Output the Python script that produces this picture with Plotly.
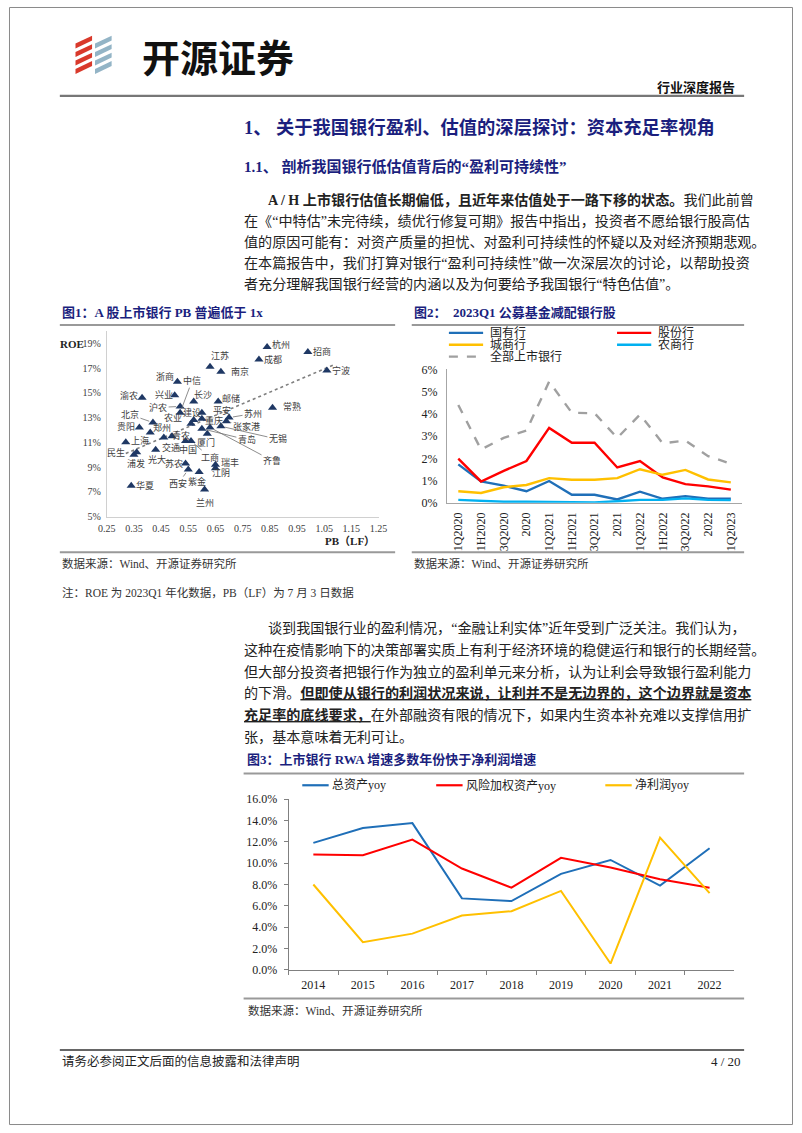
import plotly.graph_objects as go

W, H = 802, 1133
def X(px): return px / W
def Y(py): return 1 - py / H

SERIF = "'Liberation Serif', 'Noto Sans CJK SC', serif"
CJK = "'Liberation Serif', 'Noto Sans CJK SC', sans-serif"
NAVY = "#1B1F7E"
TXT = "#222222"

# ---------------- data ----------------
# Fig1: PB vs ROE (%)
banks = ['杭州','招商','成都','江苏','宁波','南京','浙商','兴业','渝农','长沙','邮储','常熟',
         '沪农','中信','建设','平安','重庆','农业','青农','苏州','张家港','无锡','齐鲁','青岛',
         '厦门','北京','贵阳','郑州','上海','交通','中国','工商','民生','浦发','光大','苏农',
         '西安','紫金','瑞丰','江阴','华夏','兰州']
pb = [0.84,0.99,0.81,0.63,1.06,0.67,0.51,0.50,0.38,0.57,0.66,0.86,
      0.52,0.52,0.57,0.60,0.60,0.56,0.49,0.70,0.69,0.67,0.63,0.60,
      0.62,0.42,0.37,0.41,0.32,0.46,0.54,0.56,0.36,0.35,0.43,0.54,
      0.55,0.59,0.65,0.65,0.34,0.61]
roe = [18.7,18.3,17.7,17.1,16.8,16.7,15.9,14.8,14.6,14.3,14.3,13.8,
       13.9,13.4,12.8,13.4,12.9,12.5,11.5,13.0,12.7,12.3,12.2,12.1,
       11.7,12.6,12.2,11.8,11.0,11.4,11.1,11.1,10.2,10.0,10.4,9.3,
       8.8,8.6,9.2,8.9,7.5,7.2]
trend_pb = [0.32, 1.09]
trend_roe = [10.1, 17.3]
pb_ticks = [0.25,0.35,0.45,0.55,0.65,0.75,0.85,0.95,1.05,1.15,1.25]
roe_ticks = [5,7,9,11,13,15,17,19]

# Fig2: fund allocation to bank stocks (%)
periods = ['1Q2020','1H2020','3Q2020','2020','1Q2021','1H2021','3Q2021','2021',
           '1Q2022','1H2022','3Q2022','2022','1Q2023']
state_banks = [1.73,0.96,0.77,0.52,0.98,0.36,0.36,0.15,0.50,0.18,0.30,0.19,0.19]
joint_banks = [1.99,0.96,1.44,1.88,3.37,2.70,2.70,1.59,1.88,1.14,0.84,0.74,0.59]
city_banks  = [0.52,0.44,0.70,0.80,1.11,1.04,1.04,1.11,1.51,1.26,1.48,1.05,0.92]
rural_banks = [0.13,0.09,0.05,0.05,0.05,0.02,0.02,0.07,0.13,0.13,0.20,0.13,0.12]
all_banks   = [4.40,2.40,2.92,3.25,5.45,4.05,4.03,2.92,3.97,2.68,2.80,2.10,1.76]

# Fig3: growth (%)
years = ['2014','2015','2016','2017','2018','2019','2020','2021','2022']
assets_yoy = [11.9,13.3,13.75,6.7,6.45,9.0,10.3,7.9,11.4]
rwa_yoy    = [10.8,10.75,12.2,9.5,7.7,10.5,9.6,8.5,7.7]
profit_yoy = [8.0,2.6,3.4,5.1,5.5,7.4,0.6,12.4,7.2]

# label offsets (px) for fig1: (dx, dy, leader)
label_pos = {
 '杭州':(14,-3,0),'招商':(14,0,0),'成都':(14,0,0),'江苏':(10,-11,0),'宁波':(14,0,0),
 '南京':(19,0,0),'浙商':(-12,-5,0),'兴业':(-11,0,0),'渝农':(-13,-2,0),'长沙':(9,-7,0),
 '邮储':(13,-3,0),'常熟':(19,-1,0),'沪农':(-22,1,1),'中信':(12,-32,1),'建设':(-2,-8,0),
 '平安':(20,-2,0),'重庆':(12,2,0),'农业':(-18,-6,0),'青农':(9,-1,0),'苏州':(24,-4,1),
 '张家港':(20,5,1),'无锡':(57,13,1),'齐鲁':(62,33,1),'青岛':(45,11,1),'厦门':(-1,9,0),
 '北京':(-23,-8,1),'贵阳':(-13,-1,0),'郑州':(12,-5,0),'上海':(14,-2,0),'交通':(7,10,0),
 '中国':(2,8,0),'工商':(19,16,1),'民生':(-21,0,0),'浦发':(2,9,0),'光大':(1,10,0),
 '苏农':(-12,0,0),'西安':(-10,14,1),'紫金':(-2,9,0),'瑞丰':(15,-2,0),'江阴':(6,5,0),
 '华夏':(14,0,0),'兰州':(0,13,0)}

fig = go.Figure()

# ---------- Fig1 traces ----------
fig.add_trace(go.Scatter(x=trend_pb, y=trend_roe, mode='lines',
    line=dict(color='#7F7F7F', width=1.6, dash='dot'), xaxis='x', yaxis='y', showlegend=False))
fig.add_trace(go.Scatter(x=pb, y=roe, mode='markers',
    marker=dict(symbol='triangle-up', size=8, color='#1F3864'), xaxis='x', yaxis='y', showlegend=False))

# ---------- Fig2 traces ----------
f2 = [(state_banks,'#1F6FB8','solid'),(joint_banks,'#FF0000','solid'),(city_banks,'#FFC000','solid'),
      (rural_banks,'#00B0F0','solid'),(all_banks,'#A0A0A0','dash')]
for vals,c,d in f2:
    fig.add_trace(go.Scatter(x=periods, y=vals, mode='lines', line=dict(color=c, width=2.4, dash=d),
                             xaxis='x2', yaxis='y2', showlegend=False))

# ---------- Fig3 traces ----------
f3 = [(assets_yoy,'#1F6FB8'),(rwa_yoy,'#FF0000'),(profit_yoy,'#FFC000')]
for vals,c in f3:
    fig.add_trace(go.Scatter(x=years, y=vals, mode='lines', line=dict(color=c, width=2),
                             xaxis='x3', yaxis='y3', showlegend=False))

ann = []
shapes = []
def text(x, y, s, size=14, color=TXT, anchor='left', family=CJK, yanchor='middle'):
    ann.append(dict(x=X(x), y=Y(y), xref='paper', yref='paper', text=s, showarrow=False,
                    xanchor=anchor, yanchor=yanchor, font=dict(size=size, color=color, family=family)))
def hline(x0, x1, y, color='#888888', width=2):
    shapes.append(dict(type='line', xref='paper', yref='paper', x0=X(x0), x1=X(x1), y0=Y(y), y1=Y(y),
                       line=dict(color=color, width=width)))

# page border
shapes.append(dict(type='rect', xref='paper', yref='paper', x0=X(0.5), x1=X(801.5), y0=Y(0.5), y1=Y(1131.5),
                   line=dict(color='#8A8A8A', width=1)))

# logo
for i in range(4):
    y0 = 27 + 8.6*i
    path = f"M {X(68)},{Y(y0+10)} L {X(85)},{Y(y0+2)} L {X(85)},{Y(y0+7)} L {X(68)},{Y(y0+15)} Z"
    shapes.append(dict(type='path', xref='paper', yref='paper', path=path, fillcolor='#D9392B', line=dict(width=0)))
    path = f"M {X(88)},{Y(y0+10)} L {X(105)},{Y(y0+2)} L {X(105)},{Y(y0+7)} L {X(88)},{Y(y0+15)} Z"
    shapes.append(dict(type='path', xref='paper', yref='paper', path=path, fillcolor='#93B4C6', line=dict(width=0)))
text(134, 49, '<b>开源证券</b>', size=38, color='#111111', family="'Noto Sans CJK SC', sans-serif")
text(745, 82, '<b>行业深度报告</b>', size=13, color='#111111', anchor='right')
hline(52, 752, 90, '#777777', 2.2)

# headings
text(238, 122, '<b>1、 关于我国银行盈利、估值的深层探讨：资本充足率视角</b>', size=18.3, color=NAVY)
text(238, 162, '<b>1.1、 剖析我国银行低估值背后的“盈利可持续性”</b>', size=15, color=NAVY)

para1 = ['<b>A / H 上市银行估值长期偏低，且近年来估值处于一路下移的状态。</b>我们此前曾',
         '在《“中特估”未完待续，绩优行修复可期》报告中指出，投资者不愿给银行股高估',
         '值的原因可能有：对资产质量的担忧、对盈利可持续性的怀疑以及对经济预期悲观。',
         '在本篇报告中，我们打算对银行“盈利可持续性”做一次深层次的讨论，以帮助投资',
         '者充分理解我国银行经营的内涵以及为何要给予我国银行“特色估值”。']
ys1 = [195, 217, 238, 259, 280]
for i,(s,yy) in enumerate(zip(para1, ys1)):
    text(263 if i == 0 else 238, yy, s, size=14.1)

# figure titles
text(52, 309, '<b>图1：A 股上市银行 PB 普遍低于 1x</b>', size=13, color=NAVY)
text(412, 309, '<b>图2：  2023Q1 公募基金减配银行股</b>', size=13, color=NAVY)
hline(52, 395, 322, '#999999', 2)
hline(412, 752, 322, '#999999', 2)
hline(52, 395, 552, '#999999', 2)
hline(412, 752, 552, '#999999', 2)
text(52, 563, '数据来源：Wind、开源证券研究所', size=11.5, color='#333333')
text(412, 563, '数据来源：Wind、开源证券研究所', size=11.5, color='#333333')
text(52, 593, '注：ROE 为 2023Q1 年化数据，PB（LF）为 7 月 3 日数据', size=11.5, color='#333333')

# fig1 axis titles
text(50, 341, '<b>ROE</b>', size=11, color='#222222', family=SERIF)
text(376, 541, '<b>PB（LF）</b>', size=11, color='#222222', anchor='right')

# fig1 labels
for name, xv, yv in zip(banks, pb, roe):
    dx, dy, lead = label_pos[name]
    if lead:
        ann.append(dict(x=xv, y=yv, xref='x', yref='y', text=name, showarrow=True, arrowhead=0,
                        arrowwidth=0.8, arrowcolor='#707070', ax=dx, ay=dy, standoff=4,
                        font=dict(size=9, color='#404040', family=CJK)))
    else:
        ann.append(dict(x=xv, y=yv, xref='x', yref='y', text=name, showarrow=False,
                        xshift=dx, yshift=-dy, xanchor='center', yanchor='middle',
                        font=dict(size=9, color='#404040', family=CJK)))

# fig2 legend
leg2 = [('国有行','#1F6FB8','solid',450,330),('股份行','#FF0000','solid',622,330),
        ('城商行','#FFC000','solid',450,342),('农商行','#00B0F0','solid',622,342),
        ('全部上市银行','#A0A0A0','dash',450,354)]
for nm,c,d,lx,ly in leg2:
    shapes.append(dict(type='line', xref='paper', yref='paper', x0=X(lx), x1=X(lx+35), y0=Y(ly), y1=Y(ly),
                       line=dict(color=c, width=2.4, dash=d)))
    text(lx+40, ly, nm, size=12, color='#222222')

# para 2
para2 = ['谈到我国银行业的盈利情况，“金融让利实体”近年受到广泛关注。我们认为，',
         '这种在疫情影响下的决策部署实质上有利于经济环境的稳健运行和银行的长期经营。',
         '但大部分投资者把银行作为独立的盈利单元来分析，认为让利会导致银行盈利能力',
         '的下滑。<b><u>但即使从银行的利润状况来说，让利并不是无边界的，这个边界就是资本</u></b>',
         '<b><u>充足率的底线要求，</u></b>在外部融资有限的情况下，如果内生资本补充难以支撑信用扩',
         '张，基本意味着无利可让。']
ys2 = [629, 651, 673, 695, 717, 739]
for i,(s,yy) in enumerate(zip(para2, ys2)):
    text(263 if i == 0 else 238, yy, s, size=14.1)

text(241, 762, '<b>图3：上市银行 RWA 增速多数年份快于净利润增速</b>', size=13, color=NAVY)
hline(240, 752, 776, '#999999', 2)
hline(240, 752, 1004, '#999999', 2)
text(242, 1016, '数据来源：Wind、开源证券研究所', size=11.5, color='#333333')

leg3 = [('总资产yoy','#1F6FB8',300),('风险加权资产yoy','#FF0000',437),('净利润yoy','#FFC000',610)]
for nm,c,lx in leg3:
    shapes.append(dict(type='line', xref='paper', yref='paper', x0=X(lx), x1=X(lx+27), y0=Y(788), y1=Y(788),
                       line=dict(color=c, width=2.2)))
    text(lx+28, 788, nm, size=12, color='#222222')

# footer
hline(52, 752, 1056, '#333333', 1.5)
text(52, 1068, '请务必参阅正文后面的信息披露和法律声明', size=12.5, color='#222222')
text(751, 1068, '4 / 20', size=13, color='#222222', anchor='right', family=SERIF)

tickfont = dict(family=SERIF, size=10, color='#404040')
fig.update_layout(
    width=W, height=H, autosize=False, margin=dict(l=0, r=0, t=0, b=0),
    paper_bgcolor='white', plot_bgcolor='rgba(0,0,0,0)',
    xaxis=dict(domain=[X(100), X(378)], range=[0.25, 1.25], anchor='y', showgrid=False, zeroline=False,
               showline=True, linecolor='#D0D0D0', linewidth=1, tickvals=pb_ticks,
               ticktext=[f'{v:.2f}' for v in pb_ticks], ticks='', tickfont=tickfont, ticklabelstandoff=2),
    yaxis=dict(domain=[Y(516), Y(328)], range=[5, 20], anchor='x', showgrid=False, zeroline=False,
               showline=True, linecolor='#D0D0D0', linewidth=1, tickvals=roe_ticks,
               ticktext=[f'{v}%' for v in roe_ticks], ticks='', tickfont=tickfont, ticklabelstandoff=3),
    xaxis2=dict(domain=[X(448), X(750)], range=[-0.5, 12.5], anchor='y2', type='category',
                showgrid=False, zeroline=False, showline=True, linecolor='#A6A6A6', linewidth=1,
                ticks='', tickangle=-90, tickfont=dict(family=SERIF, size=12, color='#222222'),
                ticklabelstandoff=4),
    yaxis2=dict(domain=[Y(502), Y(367)], range=[0, 6], anchor='x2', showgrid=False, zeroline=False,
                showline=True, linecolor='#A6A6A6', linewidth=1, tickvals=[0,1,2,3,4,5,6],
                ticktext=[f'{v}%' for v in range(7)], ticks='',
                tickfont=dict(family=SERIF, size=12, color='#222222'), ticklabelstandoff=6),
    xaxis3=dict(domain=[X(286), X(742)], range=[-0.5, 8.5], anchor='y3', type='category',
                showgrid=False, zeroline=False, showline=True, linecolor='#808080', linewidth=1,
                ticks='outside', tickson='boundaries', ticklen=4, tickcolor='#808080',
                tickfont=dict(family=SERIF, size=12, color='#222222'), ticklabelstandoff=4),
    yaxis3=dict(domain=[Y(975), Y(802)], range=[0, 16], anchor='x3', showgrid=False, zeroline=False,
                showline=True, linecolor='#808080', linewidth=1, dtick=2, tickformat='.1f',
                ticksuffix='%', ticks='outside', ticklen=4, tickcolor='#808080',
                tickfont=dict(family=SERIF, size=12, color='#222222'), ticklabelstandoff=4),
    annotations=ann, shapes=shapes, showlegend=False,
)
fig.write_html("out.html")
